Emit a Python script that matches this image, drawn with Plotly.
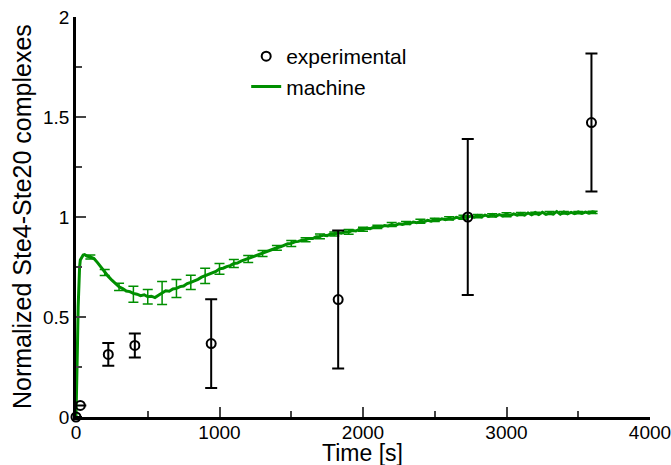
import plotly.graph_objects as go

# ---- experimental data ----
exp_t = [0, 30, 225, 410, 942, 1827, 2730, 3592]
exp_y = [0.0, 0.058, 0.313, 0.358, 0.367, 0.587, 1.0, 1.472]
exp_err = [0.0, 0.0, 0.057, 0.06, 0.222, 0.345, 0.39, 0.345]

# ---- machine (simulated) trace ----
sim_t_early = [0, 5, 10, 15, 20, 25, 30, 40, 50, 60, 75]
sim_y_early = [0.0, 0.12, 0.35, 0.55, 0.68, 0.75, 0.785, 0.80, 0.81, 0.812, 0.805]
sim_t_main = list(range(100, 3626, 25))
sim_y_main = [
    0.800, 0.792, 0.772, 0.748, 0.722, 0.703, 0.684, 0.667, 0.651, 0.642,
    0.630, 0.627, 0.618, 0.614, 0.607, 0.611, 0.601, 0.604, 0.597, 0.609,
    0.620, 0.631, 0.629, 0.640, 0.643, 0.652, 0.655, 0.667, 0.673, 0.680,
    0.688, 0.699, 0.706, 0.714, 0.724, 0.728, 0.741, 0.744, 0.752, 0.757,
    0.768, 0.770, 0.779, 0.786, 0.790, 0.801, 0.804, 0.815, 0.818, 0.829,
    0.833, 0.840, 0.846, 0.851, 0.859, 0.866, 0.868, 0.876, 0.878, 0.884,
    0.886, 0.893, 0.892, 0.901, 0.903, 0.909, 0.907, 0.915, 0.914, 0.921,
    0.919, 0.926, 0.925, 0.932, 0.930, 0.939, 0.937, 0.944, 0.942, 0.949,
    0.951, 0.950, 0.957, 0.955, 0.962, 0.958, 0.966, 0.963, 0.970, 0.967,
    0.975, 0.971, 0.979, 0.976, 0.983, 0.979, 0.988, 0.984, 0.991, 0.987,
    0.994, 0.990, 0.998, 0.994, 1.002, 0.997, 1.005, 0.999, 1.008, 1.001,
    1.009, 1.003, 1.013, 1.004, 1.012, 1.006, 1.015, 1.007, 1.016, 1.009,
    1.018, 1.010, 1.020, 1.011, 1.022, 1.012, 1.024, 1.013, 1.021, 1.015,
    1.027, 1.014, 1.025, 1.016, 1.023, 1.017, 1.026, 1.018, 1.025, 1.019,
    1.026, 1.021,
]
sim_t = sim_t_early + sim_t_main
sim_y = sim_y_early + sim_y_main

# machine error bars
sim_err_t = list(range(100, 3601, 100))
sim_err_y = [0.800, 0.722, 0.651, 0.614, 0.601, 0.620, 0.643, 0.673, 0.706, 0.741,
             0.768, 0.790, 0.818, 0.846, 0.868, 0.886, 0.903, 0.915, 0.926, 0.939,
             0.951, 0.962, 0.970, 0.979, 0.986, 0.993, 0.999, 1.004, 1.008, 1.011,
             1.015, 1.018, 1.020, 1.021, 1.022, 1.023]
sim_err = [0.010, 0.015, 0.018, 0.040, 0.036, 0.057, 0.045, 0.036, 0.038, 0.027,
           0.020, 0.018, 0.015, 0.012, 0.015, 0.010, 0.012, 0.010, 0.012, 0.010,
           0.008, 0.010, 0.008, 0.010, 0.008, 0.008, 0.010, 0.008, 0.008, 0.010,
           0.008, 0.006, 0.008, 0.006, 0.006, 0.006]

x_ticks = [0, 1000, 2000, 3000, 4000]
y_ticks = [0, 0.5, 1, 1.5, 2]
y_tick_labels = ["0", "0.5", "1", "1.5", "2"]
x_title = "Time [s]"
y_title = "Normalized Ste4-Ste20 complexes"

GREEN = "#008f00"
FONT = "Liberation Sans, Arial, Helvetica, sans-serif"

fig = go.Figure()

fig.add_trace(go.Scatter(
    x=sim_err_t, y=sim_err_y, mode="markers",
    marker=dict(size=0.1, color=GREEN, opacity=0),
    error_y=dict(type="data", array=sim_err, color=GREEN, thickness=1.5, width=5),
    showlegend=False, hoverinfo="skip", cliponaxis=False,
))

fig.add_trace(go.Scatter(
    x=sim_t, y=sim_y, mode="lines", name="machine",
    line=dict(color=GREEN, width=3), cliponaxis=False,
))

fig.add_trace(go.Scatter(
    x=exp_t, y=exp_y, mode="markers", name="experimental",
    marker=dict(symbol="circle-open", size=9, color="black", line=dict(width=2, color="black")),
    error_y=dict(type="data", array=exp_err, color="black", thickness=2, width=6),
    cliponaxis=False,
))

fig.update_layout(
    width=671, height=465,
    margin=dict(l=76, r=21, t=17, b=48, autoexpand=False),
    paper_bgcolor="white", plot_bgcolor="white",
    font=dict(family=FONT, size=19, color="black"),
    showlegend=True,
    legend=dict(x=0.2965, y=0.9525, xanchor="left", yanchor="top",
                font=dict(size=21), bgcolor="rgba(0,0,0,0)",
                traceorder="reversed", itemwidth=30),
    annotations=[
        dict(text=x_title, xref="paper", yref="paper", x=0.499, y=-0.09,
             xanchor="center", yanchor="middle", showarrow=False, font=dict(size=23)),
        dict(text=y_title, xref="paper", yref="paper", x=-0.094, y=0.5,
             xanchor="center", yanchor="middle", showarrow=False, textangle=-90,
             font=dict(size=25)),
    ],
)

fig.update_xaxes(
    range=[0, 4000], tickvals=x_ticks, ticks="inside", ticklen=10, tickwidth=2,
    showline=True, linecolor="black", linewidth=2.5, showgrid=False, zeroline=False,
    minor=dict(dtick=500, tick0=0, ticks="inside", ticklen=6, tickwidth=1.5, showgrid=False),
    tickfont=dict(size=19), automargin=False, ticklabeloverflow="allow",
)
fig.update_yaxes(
    range=[0, 2], tickvals=y_ticks, ticktext=y_tick_labels, ticks="inside", ticklen=10, tickwidth=2,
    showline=True, linecolor="black", linewidth=2.5, showgrid=False, zeroline=False,
    minor=dict(dtick=0.25, tick0=0, ticks="inside", ticklen=6, tickwidth=1.5, showgrid=False),
    tickfont=dict(size=19), automargin=False, ticklabeloverflow="allow",
)
try:
    fig.update_xaxes(ticklabelstandoff=-4)
except Exception:
    pass

# remove the default 8px page margin so the 671x465 figure fills the window exactly
fig.write_html(
    "out.html",
    config={"displayModeBar": False},
    post_script="document.body.style.margin='0';document.body.style.overflow='hidden';",
)
